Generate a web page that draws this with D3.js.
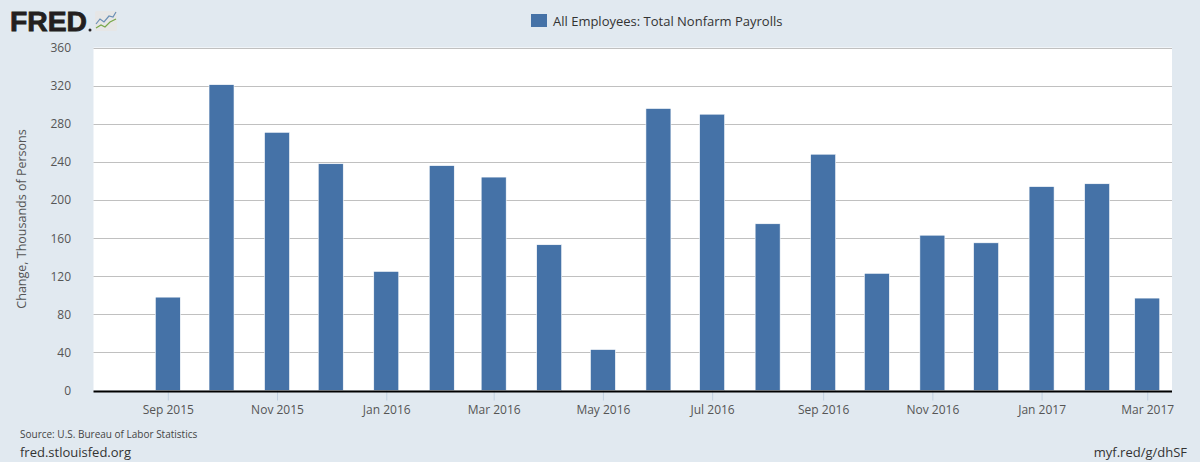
<!DOCTYPE html>
<html><head><meta charset="utf-8">
<script src="https://cdn.jsdelivr.net/npm/d3@7"></script>
<style>
html,body{margin:0;padding:0;background:#e1e9f0;}
svg{display:block;font-family:"Open Sans",sans-serif;}
</style></head>
<body><svg id="c" width="1200" height="462"></svg>
<script>
const months = ["2015-09","2015-10","2015-11","2015-12","2016-01","2016-02","2016-03","2016-04","2016-05","2016-06","2016-07","2016-08","2016-09","2016-10","2016-11","2016-12","2017-01","2017-02","2017-03"];
const values = [98,321,271,238,125,236,224,153,43,296,290,175,248,123,163,155,214,217,97];
const yTicks = [0,40,80,120,160,200,240,280,320,360];
const xTickMonths = ["2015-09","2015-11","2016-01","2016-03","2016-05","2016-07","2016-09","2016-11","2017-01","2017-03"];
const seriesName = "All Employees: Total Nonfarm Payrolls";
const yLabel = "Change, Thousands of Persons";

const parse = d3.timeParse("%Y-%m");
const svg = d3.select("#c");
const L = 93.5, R = 1172, T = 47.5, B = 390.5;

const x = d3.scaleTime()
  .domain([new Date(2015,6,21,12), new Date(2017,2,14,20)])
  .range([L, R]);
const y = d3.scaleLinear().domain([0,360]).range([B, T]);

svg.append("rect").attr("x",0).attr("y",0).attr("width",1200).attr("height",462).attr("fill","#e1e9f0");
svg.append("rect").attr("x",L).attr("y",T).attr("width",R-L).attr("height",B-T).attr("fill","#ffffff");

// grid
svg.append("g").selectAll("line").data(yTicks.filter(d=>d>0)).join("line")
  .attr("x1",L).attr("x2",R).attr("y1",d=>Math.round(y(d))+0.5).attr("y2",d=>Math.round(y(d))+0.5)
  .attr("stroke","#c0c0c0").attr("stroke-width",1);

// y labels
svg.append("g").selectAll("text").data(yTicks).join("text")
  .attr("x",71).attr("y",d=>y(d)+4.5).attr("text-anchor","end")
  .attr("font-size",12).attr("fill","#555").text(d=>d);

// bars
const bw = 25;
svg.append("g").selectAll("rect").data(months).join("rect")
  .attr("x",(d)=>x(parse(d))-bw/2).attr("width",bw)
  .attr("y",(d,i)=>y(values[i])).attr("height",(d,i)=>B-y(values[i]))
  .attr("fill","#4572a7").attr("stroke","#ffffff").attr("stroke-width",0.6);

// x axis
const xa = d3.axisBottom(x).tickValues(xTickMonths.map(parse)).tickFormat(d3.timeFormat("%b %Y")).tickSize(10).tickPadding(5);
const gx = svg.append("g").attr("transform",`translate(0,${B})`).call(xa);
gx.select(".domain").remove();
gx.selectAll(".tick line").attr("stroke","#c0d0e0").attr("stroke-width",1);
gx.selectAll(".tick text").attr("font-size",12).attr("fill","#555").attr("font-family","Open Sans, sans-serif");
svg.append("line").attr("x1",L).attr("x2",R).attr("y1",B+1).attr("y2",B+1).attr("stroke","#000").attr("stroke-width",2);

// y axis title
svg.append("text").attr("transform","translate(26,219) rotate(-90)").attr("text-anchor","middle")
  .attr("font-size",12.5).attr("fill","#555").text(yLabel);

// legend
svg.append("rect").attr("x",531).attr("y",14).attr("width",16).attr("height",13).attr("fill","#4572a7");
svg.append("text").attr("x",553).attr("y",25.5).attr("font-size",13).attr("fill","#333").text(seriesName);

// footer
svg.append("text").attr("x",20).attr("y",438).attr("font-size",10).attr("fill","#444").text("Source: U.S. Bureau of Labor Statistics");
svg.append("text").attr("x",20).attr("y",457).attr("font-size",13).attr("fill","#333").text("fred.stlouisfed.org");
svg.append("text").attr("x",1187).attr("y",457).attr("text-anchor","end").attr("font-size",13).attr("fill","#333").text("myf.red/g/dhSF");

// FRED logo
svg.append("text").attr("x",10).attr("y",31).attr("font-size",27).attr("font-weight",900)
  .attr("font-family","Liberation Sans, Arial, sans-serif").attr("textLength",77).attr("lengthAdjust","spacingAndGlyphs")
  .attr("stroke","#231f20").attr("stroke-width",0.8).attr("fill","#231f20").text("FRED");
svg.append("circle").attr("cx",90).attr("cy",30).attr("r",1.5).attr("fill","#231f20");
svg.append("rect").attr("x",95).attr("y",11).attr("width",22).attr("height",20).attr("rx",1.5).attr("fill","#e6e6e6");
svg.append("polyline").attr("points","96,24 100,19 104,22 109,16 113,17 116,12").attr("fill","none").attr("stroke","#6a8fb5").attr("stroke-width",1.2);
svg.append("polyline").attr("points","96,28 101,25 105,27 110,22 116,19").attr("fill","none").attr("stroke","#78a84a").attr("stroke-width",1.2);
</script></body></html>
